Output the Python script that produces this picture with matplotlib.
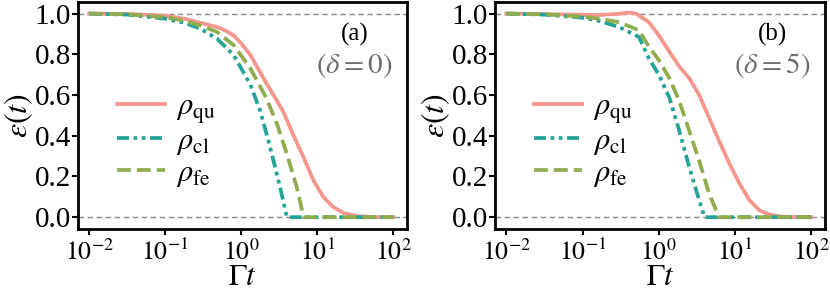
import numpy as np
import matplotlib
matplotlib.use("Agg")
import matplotlib.pyplot as plt

plt.rcParams['font.family'] = ['Liberation Serif', 'DejaVu Serif']
plt.rcParams['mathtext.fontset'] = 'stix'

# ---- data (log10 of Gamma t, and epsilon values) ----
logt_a_qu = [-2.0, -1.5, -1.0, -0.75, -0.54, -0.32, -0.2, -0.1, 0.0, 0.12, 0.22, 0.33, 0.44, 0.55, 0.68, 0.82, 0.95, 1.08, 1.21, 1.34, 1.52, 1.75, 2.0]
eps_a_qu  = [1.0, 0.998, 0.99, 0.975, 0.955, 0.934, 0.915, 0.893, 0.853, 0.796, 0.73, 0.658, 0.59, 0.52, 0.407, 0.293, 0.18, 0.099, 0.05, 0.021, 0.005, 0.001, 0.0]
logt_a_cl = [-2.0, -1.5, -1.0, -0.75, -0.54, -0.32, -0.1, 0.12, 0.25, 0.38, 0.51, 0.6, 1.0, 1.5, 2.0]
eps_a_cl  = [1.0, 0.995, 0.975, 0.955, 0.926, 0.877, 0.796, 0.65, 0.52, 0.342, 0.147, 0.0, 0.0, 0.0, 0.0]
logt_a_fe = [-2.0, -1.5, -1.0, -0.75, -0.54, -0.32, -0.1, 0.12, 0.33, 0.47, 0.6, 0.73, 0.82, 1.2, 1.6, 2.0]
eps_a_fe  = [1.0, 0.997, 0.982, 0.965, 0.942, 0.91, 0.845, 0.73, 0.585, 0.457, 0.31, 0.147, 0.0, 0.0, 0.0, 0.0]

logt_b_qu = [-2.0, -1.5, -1.0, -0.79, -0.52, -0.39, -0.3, -0.13, 0.0, 0.14, 0.27, 0.4, 0.53, 0.66, 0.79, 0.93, 1.06, 1.19, 1.32, 1.45, 1.6, 1.8, 2.0]
eps_b_qu  = [1.0, 0.997, 0.995, 0.993, 0.999, 1.005, 1.0, 0.958, 0.893, 0.812, 0.739, 0.682, 0.60, 0.488, 0.375, 0.26, 0.164, 0.083, 0.034, 0.013, 0.003, 0.001, 0.0]
logt_b_cl = [-2.0, -1.5, -1.0, -0.79, -0.52, -0.26, -0.13, 0.0, 0.14, 0.27, 0.4, 0.53, 0.6, 1.0, 1.5, 2.0]
eps_b_cl  = [1.0, 0.995, 0.98, 0.965, 0.934, 0.885, 0.78, 0.70, 0.585, 0.423, 0.245, 0.083, 0.0, 0.0, 0.0, 0.0]
logt_b_fe = [-2.0, -1.5, -1.0, -0.79, -0.52, -0.26, -0.13, 0.0, 0.14, 0.27, 0.4, 0.53, 0.66, 0.79, 1.2, 1.6, 2.0]
eps_b_fe  = [1.0, 0.997, 0.985, 0.975, 0.958, 0.918, 0.837, 0.772, 0.682, 0.569, 0.423, 0.277, 0.115, 0.0, 0.0, 0.0, 0.0]

labels = [r'$\rho_{\rm qu}$', r'$\rho_{\rm cl}$', r'$\rho_{\rm fe}$']
colors = ['#F4968C', '#24A398', '#8FAD4E']
styles = ['-', (0, (3.2, 1.2, 1.0, 1.2, 1.0, 1.2)), '--']
panel_tags = ['(a)', '(b)']
deltas = [r'$(\delta = 0)$', r'$(\delta = 5)$']

panels = [
    [(logt_a_qu, eps_a_qu), (logt_a_cl, eps_a_cl), (logt_a_fe, eps_a_fe)],
    [(logt_b_qu, eps_b_qu), (logt_b_cl, eps_b_cl), (logt_b_fe, eps_b_fe)],
]

fig = plt.figure(figsize=(8.3, 2.91), dpi=100)
rects = [(78/830, 1-229/291, 329/830, 227/291), (495/830, 1-229/291, 330/830, 227/291)]

for i, (rect, series) in enumerate(zip(rects, panels)):
    ax = fig.add_axes(rect)
    ax.axhline(1.0, color='#888888', lw=1.0, ls=(0, (4, 2.5)), zorder=1)
    ax.axhline(0.0, color='#888888', lw=1.0, ls=(0, (4, 2.5)), zorder=1)
    for (lt, ev), lab, c, s in zip(series, labels, colors, styles):
        ax.plot(10**np.array(lt), ev, color=c, ls=s, lw=2.7, label=lab, zorder=2)
    ax.set_xscale('log')
    ax.set_xlim(10**-2.149, 10**2.18)
    ax.set_ylim(-0.058, 1.057)
    ax.set_xticks([1e-2, 1e-1, 1e0, 1e1, 1e2])
    ax.set_xticklabels([r'$10^{-2}$', r'$10^{-1}$', r'$10^{0}$', r'$10^{1}$', r'$10^{2}$'])
    ax.xaxis.set_minor_locator(matplotlib.ticker.NullLocator())
    ax.set_yticks([0.0, 0.2, 0.4, 0.6, 0.8, 1.0])
    ax.set_yticklabels(['0.0', '0.2', '0.4', '0.6', '0.8', '1.0'])
    ax.tick_params(axis='both', width=1.5, length=4, direction='out')
    ax.tick_params(axis='x', labelsize=18.5, pad=3)
    ax.tick_params(axis='y', labelsize=21, pad=1)
    for sp in ax.spines.values():
        sp.set_linewidth(2.0)
    ax.set_xlabel(r'$\Gamma t$', fontsize=22)
    ax.xaxis.set_label_coords(0.5, -0.15)
    ax.set_ylabel(r'$\varepsilon(t)$', fontsize=23, labelpad=0)
    ax.text(0.84, 0.855, panel_tags[i], transform=ax.transAxes, fontsize=18,
            ha='center', va='center', color='black')
    ax.text(0.955, 0.72, deltas[i], transform=ax.transAxes, fontsize=21,
            ha='right', va='center', color='#6E6E6E')
    ax.legend(loc='center left', bbox_to_anchor=(0.119, 0.39), frameon=False,
              fontsize=22, handlelength=1.57, handletextpad=0.35, labelspacing=0.05,
              borderaxespad=0.0, borderpad=0.0)

fig.savefig('out.png', dpi=100)
